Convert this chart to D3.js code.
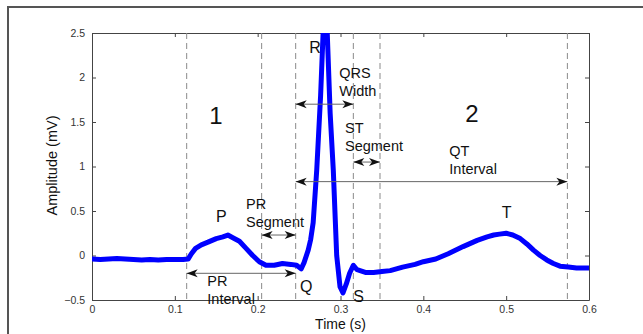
<!DOCTYPE html>
<html>
<head>
<meta charset="utf-8">
<script src="https://cdn.jsdelivr.net/npm/d3@7"></script>
<style>
  body { margin: 0; background: #fff; }
  svg { display: block; font-family: "Liberation Sans", Arial, sans-serif; }
</style>
</head>
<body>
<svg id="ecg" width="643" height="334"></svg>
<script>
// ECG trace (seconds, mV)
var time = [0.000, 0.010, 0.020, 0.030, 0.040, 0.050, 0.060, 0.070, 0.080, 0.090, 0.100, 0.110,
    0.116, 0.120, 0.125, 0.132, 0.140, 0.150, 0.158, 0.164, 0.170, 0.178, 0.186, 0.194,
    0.202, 0.210, 0.220, 0.230, 0.240, 0.247, 0.2525, 0.256, 0.261, 0.264, 0.267, 0.2713,
    0.276, 0.279, 0.2815, 0.284, 0.2875, 0.2913, 0.2954, 0.2994, 0.303, 0.307, 0.311, 0.3155,
    0.320, 0.330, 0.340, 0.350, 0.360, 0.375, 0.390, 0.400, 0.415, 0.430, 0.448, 0.465,
    0.477, 0.485, 0.492, 0.500, 0.508, 0.517, 0.525, 0.533, 0.541, 0.549, 0.557, 0.565,
    0.575, 0.585, 0.600];
var amplitude = [-0.04, -0.045, -0.04, -0.035, -0.04, -0.045, -0.05, -0.045, -0.05, -0.045, -0.045, -0.045,
    -0.04, 0.02, 0.08, 0.12, 0.15, 0.19, 0.21, 0.23, 0.20, 0.16, 0.08, 0.00,
    -0.07, -0.11, -0.11, -0.09, -0.10, -0.11, -0.15, -0.08, 0.06, 0.18, 0.37, 0.96,
    1.80, 2.50, 2.65, 2.50, 1.60, 0.96, 0.00, -0.35, -0.42, -0.32, -0.20, -0.11,
    -0.16, -0.19, -0.19, -0.18, -0.17, -0.13, -0.10, -0.07, -0.04, 0.02, 0.10, 0.17,
    0.21, 0.23, 0.24, 0.25, 0.23, 0.19, 0.13, 0.06, 0.00, -0.05, -0.09, -0.12,
    -0.13, -0.14, -0.14];

var xTicks = [0, 0.1, 0.2, 0.3, 0.4, 0.5, 0.6];
var yTicks = [-0.5, 0, 0.5, 1, 1.5, 2, 2.5];

// dashed boundaries (s)
var boundaries = [0.1143, 0.2048, 0.2459, 0.3155, 0.3477, 0.5739];

// double arrows: from, to, height (mV)
var arrowNames = ["PR Interval", "PR Segment", "QRS Width", "ST Segment", "QT Interval"];
var arrowFrom = [0.1143, 0.2048, 0.2459, 0.3155, 0.2459];
var arrowTo = [0.2459, 0.2459, 0.3155, 0.3477, 0.5739];
var arrowLevel = [-0.20, 0.23, 1.70, 1.05, 0.83];

// annotation texts (lines), anchor time, baseline mV, font size
var noteLines = [["1"], ["2"], ["R"], ["QRS", "Width"], ["ST", "Segment"], ["QT", "Interval"],
    ["P"], ["PR", "Segment"], ["PR", "Interval"], ["Q"], ["S"], ["T"]];
var noteTime = [0.1497, 0.4588, 0.2623, 0.2986, 0.3054, 0.4314, 0.1497, 0.1859, 0.1392, 0.2511, 0.3155, 0.4946];
var noteLevel = [1.479, 1.501, 2.276, 1.99, 1.381, 1.122, 0.374, 0.524, -0.338, -0.406, -0.518, 0.419];
var noteSize = [24, 24, 16, 14.5, 14.5, 14.5, 16, 14.5, 14.5, 16, 16, 16];

var svg = d3.select("#ecg"),
    margin = {top: 33, right: 54, bottom: 34, left: 92},
    width = 643 - margin.left - margin.right,
    height = 334 - margin.top - margin.bottom;

// figure frame
svg.append("path")
    .attr("d", "M8,334V7H643")
    .attr("fill", "none")
    .attr("stroke", "#555")
    .attr("stroke-width", 2);

var x = d3.scaleLinear().domain([0, 0.6]).range([0, width]);
var y = d3.scaleLinear().domain([-0.5, 2.5]).range([height, 0]);

var g = svg.append("g")
    .attr("transform", "translate(" + margin.left + "," + margin.top + ")");

g.append("defs").append("clipPath").attr("id", "clip")
    .append("rect").attr("width", width).attr("height", height);

var fmt = function(d) { return d3.format("")(d); };

function styleAxis(sel) {
    sel.selectAll("path.domain").attr("stroke", "#444");
    sel.selectAll(".tick line").attr("stroke", "#444");
    sel.selectAll(".tick text").attr("fill", "#333").attr("font-size", 10.5)
        .attr("font-family", "Liberation Sans, Arial, sans-serif");
}

g.append("g")
    .attr("transform", "translate(0," + height + ")")
    .call(d3.axisBottom(x).tickValues(xTicks).tickFormat(fmt).tickSizeInner(-4).tickSizeOuter(0).tickPadding(6))
    .call(styleAxis);
g.append("g")
    .call(d3.axisLeft(y).tickValues(yTicks).tickFormat(fmt).tickSizeInner(-4).tickSizeOuter(0).tickPadding(7))
    .call(styleAxis);
g.append("g")
    .call(d3.axisTop(x).tickValues(xTicks).tickFormat("").tickSizeInner(-4).tickSizeOuter(0))
    .call(styleAxis);
g.append("g")
    .attr("transform", "translate(" + width + ",0)")
    .call(d3.axisRight(y).tickValues(yTicks).tickFormat("").tickSizeInner(-4).tickSizeOuter(0))
    .call(styleAxis);

// dashed boundary lines
g.selectAll(".boundary")
    .data(boundaries)
    .enter().append("line")
    .attr("class", "boundary")
    .attr("x1", function(d) { return x(d); })
    .attr("x2", function(d) { return x(d); })
    .attr("y1", 0)
    .attr("y2", height)
    .attr("stroke", "#8a8a8a")
    .attr("stroke-dasharray", "6,4");

// ECG trace
var line = d3.line()
    .x(function(d, i) { return x(time[i]); })
    .y(function(d) { return y(d); });

g.append("path")
    .datum(amplitude)
    .attr("clip-path", "url(#clip)")
    .attr("d", line)
    .attr("fill", "none")
    .attr("stroke", "#0000ff")
    .attr("stroke-width", 5)
    .attr("stroke-linejoin", "round")
    .attr("stroke-linecap", "round");

// arrows
var defs = svg.append("defs");
defs.append("marker")
    .attr("id", "head")
    .attr("viewBox", "0 -5 12 10")
    .attr("refX", 12)
    .attr("refY", 0)
    .attr("markerWidth", 12)
    .attr("markerHeight", 10)
    .attr("markerUnits", "userSpaceOnUse")
    .attr("orient", "auto-start-reverse")
    .append("path")
    .attr("d", "M12,0L1,-4L4,0L1,4Z")
    .attr("fill", "#111");

g.selectAll(".span")
    .data(arrowNames)
    .enter().append("line")
    .attr("class", "span")
    .attr("x1", function(d, i) { return x(arrowFrom[i]); })
    .attr("x2", function(d, i) { return x(arrowTo[i]); })
    .attr("y1", function(d, i) { return y(arrowLevel[i]); })
    .attr("y2", function(d, i) { return y(arrowLevel[i]); })
    .attr("stroke", "#666")
    .attr("stroke-width", 1)
    .attr("marker-start", "url(#head)")
    .attr("marker-end", "url(#head)");

// annotation texts
var notes = g.selectAll(".note")
    .data(noteLines)
    .enter().append("text")
    .attr("class", "note")
    .attr("x", function(d, i) { return x(noteTime[i]); })
    .attr("y", function(d, i) { return y(noteLevel[i]); })
    .attr("font-size", function(d, i) { return noteSize[i]; })
    .attr("text-anchor", function(d, i) { return i < 2 ? "middle" : "start"; })
    .attr("fill", "#111");

notes.each(function(lines, i) {
    var t = d3.select(this);
    lines.forEach(function(s, k) {
        t.append("tspan")
            .attr("x", x(noteTime[i]))
            .attr("dy", k === 0 ? 0 : 18)
            .text(s);
    });
});

// axis labels
svg.append("text")
    .attr("x", margin.left + width / 2)
    .attr("y", 329)
    .attr("text-anchor", "middle")
    .attr("font-size", 14)
    .attr("fill", "#111")
    .text("Time (s)");

svg.append("text")
    .attr("transform", "translate(57," + (margin.top + height / 2 - 1) + ") rotate(-90)")
    .attr("text-anchor", "middle")
    .attr("font-size", 14.5)
    .attr("fill", "#111")
    .text("Amplitude (mV)");
</script>
</body>
</html>
